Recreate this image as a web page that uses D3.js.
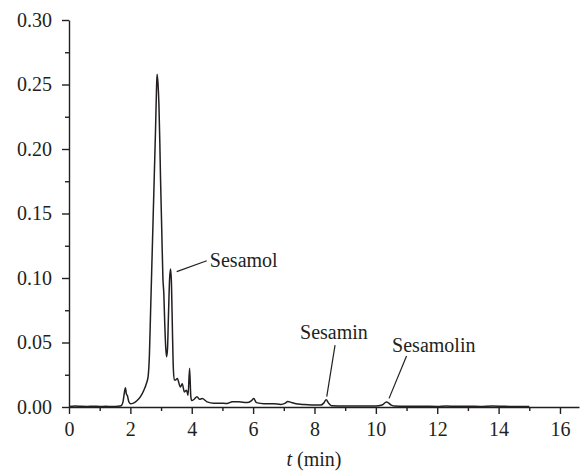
<!DOCTYPE html>
<html>
<head>
<meta charset="utf-8">
<script src="https://cdn.jsdelivr.net/npm/d3@7"></script>
<style>
  body { margin: 0; background: #fff; }
  svg text { font-family: "Liberation Serif", "DejaVu Serif", serif; fill: #231f20; }
</style>
</head>
<body>
<div id="chart"></div>
<script>
// retention time (min) and absorbance
var time = [0, 0.2, 0.4, 0.6, 0.8, 1.0, 1.2, 1.4, 1.6, 1.7, 1.76, 1.81, 1.84, 1.87, 1.9, 1.95, 2.0, 2.1, 2.22, 2.33, 2.44, 2.52, 2.58,
  2.62, 2.66, 2.7, 2.74, 2.78, 2.82, 2.85, 2.87, 2.9, 2.93, 2.96, 2.98, 3.02, 3.06, 3.09, 3.12, 3.15, 3.18, 3.21, 3.24, 3.28,
  3.31, 3.34, 3.37, 3.4, 3.43, 3.47, 3.53, 3.63, 3.69, 3.76, 3.83, 3.88, 3.93, 3.97, 4.0, 4.08, 4.17, 4.25, 4.34, 4.5, 4.72,
  4.94, 5.15, 5.32, 5.53, 5.8, 5.95, 6.02, 6.11, 6.35, 6.67, 6.9, 7.05, 7.13, 7.25, 7.4, 7.6, 7.9, 8.2, 8.3, 8.38, 8.46, 8.55,
  9.0, 9.5, 10.0, 10.2, 10.35, 10.5, 10.6, 11.0, 11.5, 12.0, 12.3, 12.6, 13.0, 13.4, 13.8, 14.2, 14.6, 15.0];
var absorb = [0.0003, 0.0008, 0.0005, 0.0004, 0.0006, 0.0004, 0.0005, 0.0004, 0.0006, 0.001, 0.004, 0.012, 0.015, 0.010, 0.009, 0.004, 0.0025, 0.003, 0.005, 0.008, 0.013, 0.018, 0.024,
  0.04, 0.075, 0.11, 0.145, 0.18, 0.215, 0.245, 0.258, 0.251, 0.235, 0.205, 0.18, 0.14, 0.10, 0.088, 0.065, 0.047, 0.039, 0.045, 0.07, 0.1,
  0.107, 0.095, 0.06, 0.03, 0.021, 0.021, 0.022, 0.0155, 0.018, 0.0117, 0.013, 0.009, 0.030, 0.008, 0.005, 0.006, 0.008, 0.006, 0.0065, 0.004, 0.003,
  0.003, 0.0027, 0.004, 0.004, 0.0034, 0.005, 0.0065, 0.0034, 0.0026, 0.0026, 0.002, 0.003, 0.0042, 0.0035, 0.0025, 0.002, 0.0015, 0.0015, 0.003, 0.0057, 0.003, 0.001,
  0.0008, 0.0008, 0.0008, 0.0015, 0.0039, 0.0015, 0.0007, 0.0005, 0.0006, 0.0004, 0.0008, 0.0005, 0.0006, 0.0004, 0.0007, 0.0005, 0.0004, 0.0004];

var xTicks = [0, 2, 4, 6, 8, 10, 12, 14, 16];
var yTicks = [0.00, 0.05, 0.10, 0.15, 0.20, 0.25, 0.30];

// peak labels: leader line runs from the peak end to the label end, text placed at its own spot
var peakNames = ["Sesamol", "Sesamin", "Sesamolin"];
var leadFromT = [3.51, 8.40, 10.43];
var leadFromV = [0.1049, 0.008, 0.0067];
var leadToT = [4.49, 8.67, 11.0];
var leadToV = [0.1134, 0.048, 0.0395];
var textT = [4.59, 7.53, 10.53];
var textV = [0.1088, 0.0527, 0.0429];

var width = 580, height = 471;
var fontSize = "20px";
var svg = d3.select("#chart").append("svg")
    .attr("width", width)
    .attr("height", height);

var x = d3.scaleLinear().domain([0, 16.62]).range([69, 579]);
var y = d3.scaleLinear().domain([0, 0.30]).range([407, 20]);

// minor ticks first, then major ones on top
svg.append("g")
    .attr("transform", "translate(0,407)")
    .call(d3.axisBottom(x).tickValues(d3.range(1, 17, 2)).tickSize(4).tickFormat(""))
    .call(g => g.select(".domain").remove());
svg.append("g")
    .attr("transform", "translate(69,0)")
    .call(d3.axisLeft(y).tickValues([0.025, 0.075, 0.125, 0.175, 0.225, 0.275]).tickSize(4).tickFormat(""))
    .call(g => g.select(".domain").remove());

svg.append("g")
    .attr("transform", "translate(0,407)")
    .call(d3.axisBottom(x).tickValues(xTicks).tickSize(7).tickSizeOuter(0).tickPadding(8).tickFormat(d3.format("d")));
svg.append("g")
    .attr("transform", "translate(69,0)")
    .call(d3.axisLeft(y).tickValues(yTicks).tickSize(7).tickSizeOuter(0).tickPadding(10).tickFormat(d3.format(".2f")));

svg.selectAll(".domain, .tick line")
    .attr("stroke", "#231f20")
    .attr("stroke-width", 1.4);
svg.selectAll(".tick text")
    .style("font-size", fontSize);

// x axis title
var title = svg.append("text")
    .attr("x", 314)
    .attr("y", 466)
    .attr("text-anchor", "middle")
    .style("font-size", fontSize);
title.append("tspan").style("font-style", "italic").text("t");
title.append("tspan").text(" (min)");

// the chromatogram trace
var line = d3.line()
    .x(function(d, i) { return x(time[i]); })
    .y(function(d) { return y(d); })
    .curve(d3.curveMonotoneX);
svg.append("path")
    .datum(absorb)
    .attr("fill", "none")
    .attr("stroke", "#231f20")
    .attr("stroke-width", 1.5)
    .attr("stroke-linejoin", "round")
    .attr("d", line);

// peak labels with leader lines
for (var i = 0; i < peakNames.length; i++) {
    svg.append("line")
        .attr("x1", x(leadFromT[i])).attr("y1", y(leadFromV[i]))
        .attr("x2", x(leadToT[i])).attr("y2", y(leadToV[i]))
        .attr("stroke", "#231f20").attr("stroke-width", 1.2);
    svg.append("text")
        .attr("x", x(textT[i])).attr("y", y(textV[i]))
        .style("font-size", fontSize)
        .text(peakNames[i]);
}
</script>
</body>
</html>
